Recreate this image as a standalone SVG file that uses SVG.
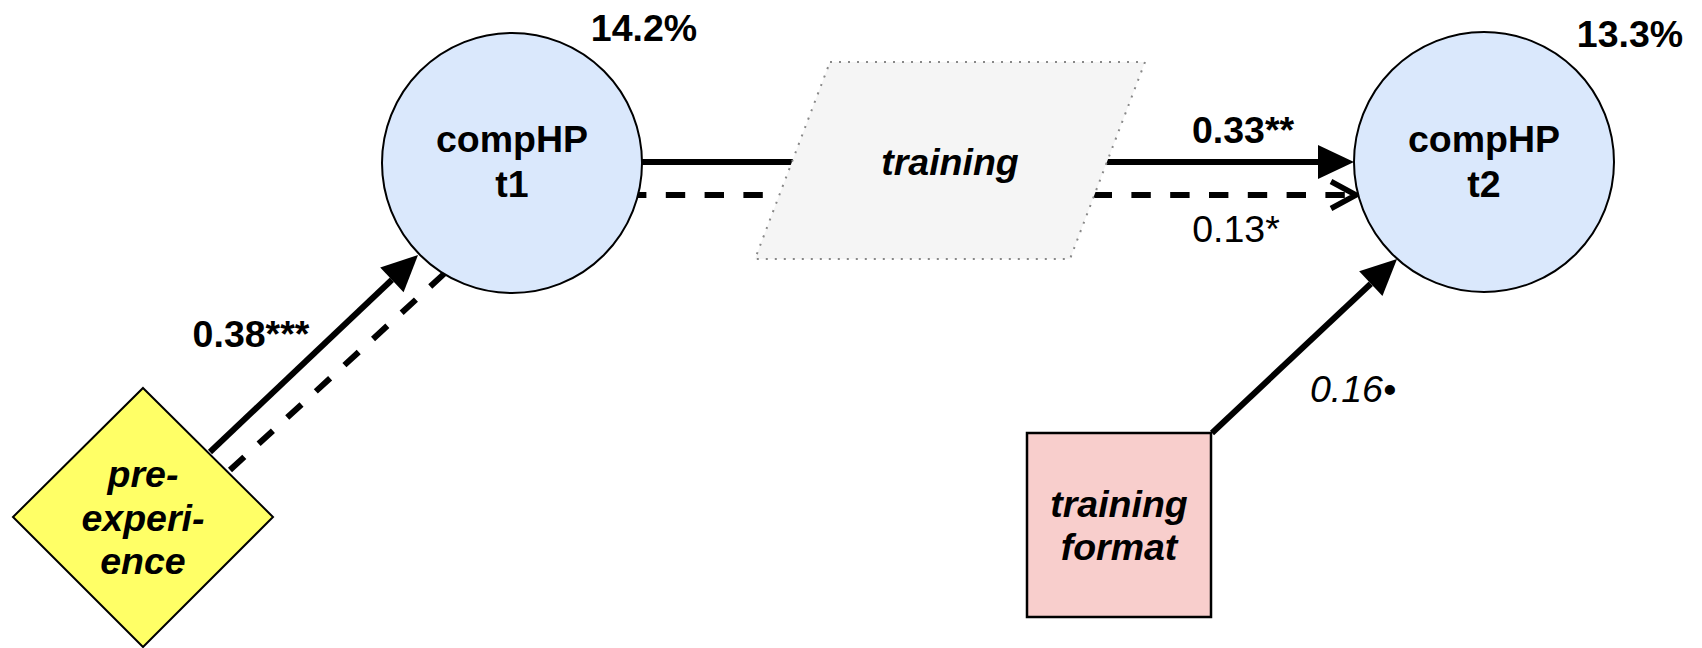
<svg xmlns="http://www.w3.org/2000/svg" width="1702" height="648" viewBox="0 0 1702 648">
<defs>
<style>
.lbl{font-family:"Liberation Sans",Arial,sans-serif;font-size:37.5px;fill:#000;text-anchor:middle}
.b{font-weight:bold}
.i{font-style:italic}
.solid{stroke:#000;stroke-width:6;fill:none}
.dash{stroke:#000;stroke-width:6;fill:none;stroke-dasharray:19.4 19.4}
.circ{fill:#dae8fc;stroke:#000;stroke-width:2}
</style>
<marker id="block" markerUnits="userSpaceOnUse" markerWidth="40" markerHeight="40" refX="0" refY="17" orient="auto" overflow="visible">
<path d="M0,0 L36,17 L0,34 Z" fill="#000"/>
</marker>
<marker id="open" markerUnits="userSpaceOnUse" markerWidth="40" markerHeight="40" refX="25" refY="13.5" orient="auto" overflow="visible">
<path d="M0,0 L25,13.5 L0,27" fill="none" stroke="#000" stroke-width="5.5"/>
</marker>
</defs>
<rect width="1702" height="648" fill="#fff"/>
<g id="connectors">
<line class="solid" x1="210" y1="452" x2="391.9" y2="279.8" marker-end="url(#block)"/>
<line class="dash" x1="230" y1="470" x2="445" y2="273"/>
<line class="solid" x1="642" y1="162" x2="1318" y2="162" marker-end="url(#block)"/>
<line class="dash" x1="638" y1="195" x2="1356" y2="195" stroke-dashoffset="11" marker-end="url(#open)"/>
<line class="solid" x1="1212" y1="433" x2="1370.8" y2="283.7" marker-end="url(#block)"/>
<text class="lbl b" x="251" y="347">0.38***</text>
<text class="lbl b" x="1243" y="143">0.33**</text>
<text class="lbl" x="1236" y="242">0.13*</text>
<text class="lbl i" x="1353" y="402">0.16•</text>
</g>
<g id="node-training">
<polygon points="830,62 1145,62 1070,259 755,259" fill="#f5f5f5" stroke="#888" stroke-width="2" stroke-dasharray="2 7"/>
<text class="lbl b i" x="950" y="175">training</text>
</g>
<g id="node-compHP-t1">
<circle class="circ" cx="512" cy="163" r="130"/>
<text class="lbl b" x="512" y="152">compHP</text>
<text class="lbl b" x="512" y="197">t1</text>
<text class="lbl b" x="644" y="41">14.2%</text>
</g>
<g id="node-compHP-t2">
<circle class="circ" cx="1484" cy="162" r="130"/>
<text class="lbl b" x="1484" y="152">compHP</text>
<text class="lbl b" x="1484" y="197">t2</text>
<text class="lbl b" x="1630" y="47">13.3%</text>
</g>
<g id="node-pre-experience">
<polygon points="143,388 273,517 143,647 13,517" fill="#ffff66" stroke="#000" stroke-width="2"/>
<text class="lbl b i" x="143" y="487">pre-</text>
<text class="lbl b i" x="143" y="531">experi-</text>
<text class="lbl b i" x="143" y="574">ence</text>
</g>
<g id="node-training-format">
<rect x="1027" y="433" width="184" height="184" fill="#f8cecc" stroke="#000" stroke-width="2.5"/>
<text class="lbl b i" x="1119" y="517">training</text>
<text class="lbl b i" x="1119" y="560">format</text>
</g>
</svg>
